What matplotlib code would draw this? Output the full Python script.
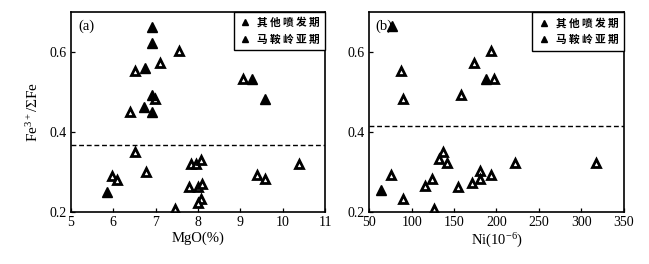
import matplotlib
matplotlib.use("Agg")
import matplotlib.pyplot as plt
from matplotlib.lines import Line2D

plt.rcParams['font.family'] = ['Liberation Serif', 'Noto Sans CJK SC', 'DejaVu Sans']
plt.rcParams['mathtext.fontset'] = 'custom'
plt.rcParams['mathtext.rm'] = 'Liberation Serif'
plt.rcParams['mathtext.it'] = 'Liberation Serif:italic'

series_names = ['其他喷发期', '马鞍岭亚期']

# Panel (a): MgO (%) vs Fe3+/ΣFe
mgo_other = [7.56, 7.11, 6.52, 9.07, 6.98, 6.40, 6.51, 5.98, 6.08, 6.77, 7.83, 7.96,
             8.07, 7.78, 8.00, 8.10, 8.07, 8.00, 7.47, 9.40, 9.58, 10.39]
fe_a_other = [0.603, 0.572, 0.552, 0.533, 0.482, 0.451, 0.350, 0.291, 0.280, 0.299, 0.320, 0.320,
              0.329, 0.262, 0.262, 0.271, 0.232, 0.222, 0.207, 0.293, 0.282, 0.320]
mgo_mal = [6.91, 6.91, 6.75, 9.27, 9.58, 6.92, 6.73, 6.92, 5.86]
fe_a_mal = [0.662, 0.622, 0.561, 0.533, 0.482, 0.492, 0.462, 0.450, 0.251]
dash_a = 0.367

# Panel (b): Ni (10^-6) vs Fe3+/ΣFe
ni_other = [87.4, 89.4, 158.7, 173.2, 194.1, 196.5, 75.2, 89.4, 116.1, 124.0, 126.0, 132.3,
            136.6, 141.3, 154.3, 171.3, 180.7, 181.1, 193.7, 221.3, 316.9]
fe_b_other = [0.553, 0.482, 0.493, 0.573, 0.604, 0.533, 0.292, 0.233, 0.265, 0.283, 0.208, 0.333,
              0.351, 0.323, 0.263, 0.273, 0.302, 0.283, 0.293, 0.323, 0.323]
ni_mal = [76.8, 187.4, 63.4]
fe_b_mal = [0.666, 0.532, 0.254]
dash_b = 0.415

fig = plt.figure(figsize=(6.49, 2.64), dpi=100)
ax_a = fig.add_axes([0.109, 0.197, 0.392, 0.758])
ax_b = fig.add_axes([0.569, 0.197, 0.392, 0.756])

tick_fs = 10
ms = 6

def style(ax):
    ax.tick_params(direction='in', length=3, width=0.9, labelsize=tick_fs, pad=3)
    ax.set_yticks([0.2, 0.4, 0.6])
    ax.set_yticklabels(['0.2', '0.4', '0.6'])
    for s in ax.spines.values():
        s.set_linewidth(1.2)
    handles = [Line2D([], [], marker='^', ls='none', color='black', ms=5),
               Line2D([], [], marker='^', ls='none', color='black', ms=5)]
    labels = [' '.join(n) for n in series_names]
    leg = ax.legend(handles, labels, loc='upper right', bbox_to_anchor=(1.0, 1.0),
                    prop={'family': ['Noto Sans CJK SC'], 'size': 7.7, 'weight': 'bold'},
                    frameon=True, fancybox=False, edgecolor='black', framealpha=1,
                    borderaxespad=0, handletextpad=0.5, labelspacing=0.6,
                    borderpad=0.5, handlelength=1.2)
    leg.get_frame().set_linewidth(1.0)

ax_a.plot(mgo_other, fe_a_other, ls='none', marker='^', ms=ms, mfc='white', mec='black', mew=2.0)
ax_a.plot(mgo_mal, fe_a_mal, ls='none', marker='^', ms=ms + 0.6, mfc='black', mec='black', mew=1.0)
ax_a.axhline(dash_a, color='black', lw=1.0, ls=(0, (3.5, 2)))
ax_a.set_xlim(5, 11)
ax_a.set_ylim(0.2, 0.7)
ax_a.set_xticks(range(5, 12))
ax_a.set_xlabel('MgO(%)', fontsize=10.5, labelpad=2)
ax_a.set_ylabel(r'Fe$^{\mathrm{3+}}$/ΣFe', fontsize=11, labelpad=6)
ax_a.text(0.03, 0.93, '(a)', transform=ax_a.transAxes, fontsize=10.5, va='center', ha='left')
style(ax_a)

ax_b.plot(ni_other, fe_b_other, ls='none', marker='^', ms=ms, mfc='white', mec='black', mew=2.0)
ax_b.plot(ni_mal, fe_b_mal, ls='none', marker='^', ms=ms + 0.6, mfc='black', mec='black', mew=1.0)
ax_b.axhline(dash_b, color='black', lw=1.0, ls=(0, (3.5, 2)))
ax_b.set_xlim(50, 350)
ax_b.set_ylim(0.2, 0.7)
ax_b.set_xticks(range(50, 351, 50))
ax_b.set_xlabel(r'Ni(10$^{\mathrm{-6}}$)', fontsize=10.5, labelpad=2)
ax_b.text(0.025, 0.93, '(b)', transform=ax_b.transAxes, fontsize=10.5, va='center', ha='left')
style(ax_b)

fig.savefig('out.png', dpi=100)
